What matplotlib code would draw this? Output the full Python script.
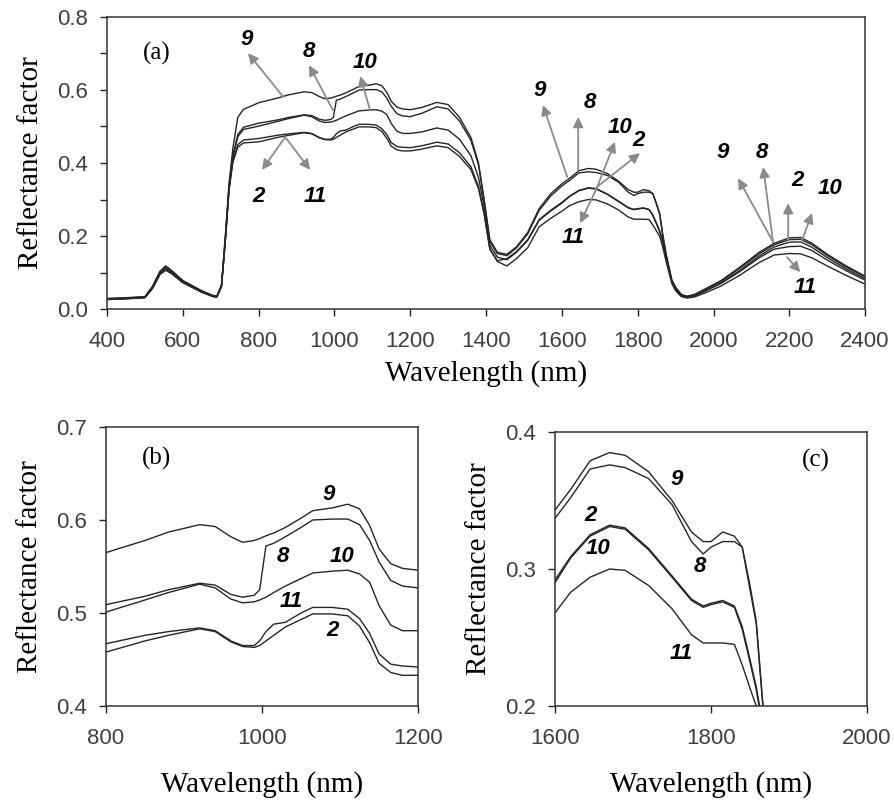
import matplotlib
matplotlib.use("Agg")
import matplotlib.pyplot as plt
from matplotlib.ticker import MultipleLocator, FormatStrFormatter

# Wavelength knots (nm) shared by every spectrum
wavelength = [400, 450, 500, 520, 540, 555, 570, 600, 650, 680,
              690, 702, 712, 722, 732, 745, 760, 800, 850, 880,
              920, 940, 960, 975, 990, 997, 1005, 1015, 1030, 1050,
              1065, 1090, 1110, 1125, 1138, 1150, 1165, 1180, 1200, 1230,
              1270, 1300, 1330, 1360, 1380, 1395, 1410, 1430, 1455, 1480,
              1510, 1540, 1570, 1600, 1620, 1645, 1670, 1690, 1720, 1750,
              1775, 1790, 1800, 1815, 1830, 1840, 1850, 1858, 1866, 1875,
              1890, 1900, 1915, 1930, 1950, 1980, 2020, 2070, 2120, 2160,
              2200, 2230, 2260, 2300, 2350, 2400]

# Reflectance factor of each sample
refl_9 = [0.029, 0.031, 0.034, 0.062, 0.104, 0.118, 0.106, 0.078, 0.050, 0.037,
          0.036, 0.066, 0.200, 0.345, 0.440, 0.525, 0.547, 0.565, 0.578, 0.587,
          0.595, 0.593, 0.582, 0.576, 0.578, 0.580, 0.583, 0.586, 0.592, 0.602,
          0.610, 0.613, 0.617, 0.612, 0.594, 0.569, 0.553, 0.548, 0.546, 0.552,
          0.566, 0.560, 0.525, 0.470, 0.400, 0.300, 0.190, 0.155, 0.150, 0.170,
          0.210, 0.275, 0.315, 0.343, 0.358, 0.379, 0.385, 0.383, 0.371, 0.350,
          0.327, 0.320, 0.320, 0.327, 0.324, 0.316, 0.288, 0.262, 0.205, 0.150,
          0.080, 0.060, 0.040, 0.035, 0.040, 0.056, 0.078, 0.115, 0.155, 0.180,
          0.195, 0.196, 0.180, 0.150, 0.118, 0.090]

refl_8 = [0.028, 0.030, 0.033, 0.061, 0.102, 0.116, 0.104, 0.077, 0.049, 0.036,
          0.035, 0.064, 0.190, 0.335, 0.420, 0.478, 0.498, 0.509, 0.518, 0.525,
          0.532, 0.530, 0.520, 0.517, 0.519, 0.525, 0.572, 0.575, 0.582, 0.592,
          0.600, 0.601, 0.601, 0.595, 0.578, 0.555, 0.535, 0.529, 0.527, 0.536,
          0.554, 0.548, 0.515, 0.462, 0.395, 0.295, 0.185, 0.152, 0.146, 0.167,
          0.206, 0.270, 0.309, 0.337, 0.352, 0.373, 0.376, 0.374, 0.366, 0.347,
          0.320, 0.311, 0.316, 0.320, 0.320, 0.316, 0.285, 0.260, 0.203, 0.148,
          0.078, 0.058, 0.039, 0.034, 0.039, 0.054, 0.076, 0.112, 0.151, 0.176,
          0.190, 0.191, 0.176, 0.147, 0.115, 0.088]

refl_10 = [0.027, 0.029, 0.032, 0.059, 0.099, 0.112, 0.101, 0.075, 0.047, 0.035,
           0.034, 0.063, 0.188, 0.332, 0.415, 0.472, 0.492, 0.501, 0.514, 0.522,
           0.531, 0.527, 0.515, 0.511, 0.512, 0.514, 0.517, 0.522, 0.529, 0.537,
           0.543, 0.545, 0.546, 0.542, 0.533, 0.508, 0.487, 0.481, 0.481, 0.485,
           0.496, 0.490, 0.465, 0.420, 0.360, 0.280, 0.175, 0.142, 0.135, 0.155,
           0.188, 0.243, 0.268, 0.290, 0.308, 0.324, 0.331, 0.329, 0.314, 0.294,
           0.277, 0.272, 0.274, 0.276, 0.272, 0.256, 0.232, 0.212, 0.185, 0.140,
           0.075, 0.054, 0.036, 0.032, 0.036, 0.050, 0.070, 0.103, 0.140, 0.164,
           0.171, 0.172, 0.160, 0.134, 0.105, 0.079]

refl_11 = [0.026, 0.028, 0.031, 0.057, 0.096, 0.108, 0.098, 0.073, 0.046, 0.034,
           0.033, 0.062, 0.185, 0.328, 0.405, 0.450, 0.463, 0.467, 0.476, 0.480,
           0.484, 0.481, 0.470, 0.465, 0.465, 0.470, 0.480, 0.488, 0.490, 0.500,
           0.506, 0.506, 0.504, 0.494, 0.478, 0.456, 0.445, 0.443, 0.442, 0.447,
           0.457, 0.452, 0.428, 0.390, 0.335, 0.262, 0.165, 0.130, 0.118, 0.138,
           0.168, 0.225, 0.248, 0.268, 0.283, 0.294, 0.300, 0.299, 0.288, 0.271,
           0.252, 0.246, 0.246, 0.246, 0.245, 0.230, 0.213, 0.200, 0.170, 0.130,
           0.070, 0.050, 0.034, 0.030, 0.033, 0.045, 0.063, 0.093, 0.127, 0.148,
           0.152, 0.151, 0.140, 0.118, 0.092, 0.068]

refl_2 = [0.026, 0.028, 0.031, 0.056, 0.095, 0.106, 0.097, 0.072, 0.046, 0.034,
          0.033, 0.062, 0.185, 0.328, 0.402, 0.443, 0.455, 0.458, 0.470, 0.476,
          0.483, 0.480, 0.469, 0.464, 0.463, 0.465, 0.470, 0.476, 0.485, 0.493,
          0.499, 0.499, 0.497, 0.486, 0.468, 0.446, 0.436, 0.433, 0.433, 0.438,
          0.447, 0.442, 0.418, 0.382, 0.330, 0.260, 0.163, 0.132, 0.138, 0.157,
          0.190, 0.245, 0.270, 0.292, 0.309, 0.325, 0.332, 0.330, 0.315, 0.295,
          0.278, 0.273, 0.275, 0.277, 0.273, 0.258, 0.234, 0.214, 0.188, 0.142,
          0.076, 0.055, 0.037, 0.033, 0.037, 0.051, 0.072, 0.106, 0.145, 0.170,
          0.183, 0.184, 0.169, 0.141, 0.110, 0.083]

spectra = [refl_9, refl_8, refl_10, refl_11, refl_2]

SANS = "Liberation Sans"
SERIF = "Liberation Serif"
ARROW = "#8a8a8a"


def style_axes(ax, xlim, xstep, ylim, ymajor, yminor, xpad):
    ax.set_xlim(*xlim)
    ax.set_ylim(*ylim)
    ax.xaxis.set_major_locator(MultipleLocator(xstep))
    ax.yaxis.set_major_locator(MultipleLocator(ymajor))
    ax.yaxis.set_minor_locator(MultipleLocator(yminor))
    ax.yaxis.set_major_formatter(FormatStrFormatter("%.1f"))
    ax.tick_params(which="both", direction="out", length=5, width=1,
                   color="#222222", top=False, right=False)
    ax.tick_params(axis="x", pad=11, labelsize=16, labelcolor="#404040")
    ax.tick_params(axis="y", pad=9, labelsize=16, labelcolor="#404040")
    for lab in ax.get_xticklabels() + ax.get_yticklabels():
        lab.set_family(SANS)
    for sp in ax.spines.values():
        sp.set_color("#333333")
        sp.set_linewidth(1.1)
    ax.set_xlabel("Wavelength (nm)", family=SERIF, fontsize=21, labelpad=xpad)
    ax.set_ylabel("Reflectance factor", family=SERIF, fontsize=21, labelpad=9)


def num(ax, x, y, s):
    ax.text(x, y, s, family=SANS, fontsize=16, fontweight="bold",
            fontstyle="italic", ha="center", va="center")


def arrow(ax, tail, head):
    ax.annotate("", xy=head, xytext=tail,
                arrowprops=dict(arrowstyle="-|>", color=ARROW, lw=1.3,
                                mutation_scale=15, shrinkA=0, shrinkB=0))


fig = plt.figure(figsize=(8.94, 8.0), dpi=100)
ax_a = fig.add_axes([0.1197, 0.61375, 0.848, 0.365])
ax_b = fig.add_axes([0.1186, 0.1175, 0.349, 0.34875])
ax_c = fig.add_axes([0.6208, 0.1175, 0.349, 0.3425])

for ax in (ax_a, ax_b, ax_c):
    for r in spectra:
        ax.plot(wavelength, r, color="#262626", lw=1.0)

# (a) full spectrum
style_axes(ax_a, (400, 2400), 200, (0, 0.8), 0.2, 0.1, 6)
ax_a.text(532, 0.70, "(a)", family=SERIF, fontsize=18, ha="center", va="center")

# NIR plateau arrows
arrow(ax_a, (865, 0.581), (772, 0.701)); num(ax_a, 769, 0.737, "9")
arrow(ax_a, (996, 0.545), (933, 0.668)); num(ax_a, 933, 0.705, "8")
arrow(ax_a, (1094, 0.545), (1068, 0.638)); num(ax_a, 1081, 0.674, "10")
arrow(ax_a, (870, 0.471), (809, 0.381)); num(ax_a, 799, 0.307, "2")
arrow(ax_a, (870, 0.471), (936, 0.381)); num(ax_a, 949, 0.307, "11")

# 1700 nm arrows
arrow(ax_a, (1614, 0.362), (1550, 0.559)); num(ax_a, 1542, 0.600, "9")
arrow(ax_a, (1643, 0.381), (1643, 0.526)); num(ax_a, 1674, 0.567, "8")
arrow(ax_a, (1692, 0.331), (1740, 0.458)); num(ax_a, 1754, 0.496, "10")
arrow(ax_a, (1692, 0.334), (1806, 0.427)); num(ax_a, 1801, 0.463, "2")
arrow(ax_a, (1692, 0.331), (1648, 0.235)); num(ax_a, 1630, 0.197, "11")

# 2200 nm arrows
arrow(ax_a, (2157, 0.184), (2065, 0.358)); num(ax_a, 2025, 0.430, "9")
arrow(ax_a, (2157, 0.184), (2131, 0.389)); num(ax_a, 2128, 0.430, "8")
arrow(ax_a, (2197, 0.189), (2197, 0.290)); num(ax_a, 2221, 0.353, "2")
arrow(ax_a, (2234, 0.189), (2260, 0.263)); num(ax_a, 2308, 0.331, "10")
arrow(ax_a, (2194, 0.142), (2229, 0.101)); num(ax_a, 2242, 0.060, "11")

# (b) 800-1200 nm detail
style_axes(ax_b, (800, 1200), 200, (0.4, 0.7), 0.1, 0.1, 16)
ax_b.text(865, 0.666, "(b)", family=SERIF, fontsize=18, ha="center", va="center")
num(ax_b, 1085, 0.627, "9")
num(ax_b, 1027, 0.561, "8")
num(ax_b, 1102, 0.561, "10")
num(ax_b, 1038, 0.512, "11")
num(ax_b, 1091, 0.481, "2")

# (c) 1600-2000 nm detail
style_axes(ax_c, (1600, 2000), 200, (0.2, 0.4), 0.1, 0.1, 16)
ax_c.text(1935, 0.379, "(c)", family=SERIF, fontsize=18, ha="center", va="center")
num(ax_c, 1756, 0.365, "9")
num(ax_c, 1645, 0.339, "2")
num(ax_c, 1655, 0.315, "10")
num(ax_c, 1786, 0.302, "8")
num(ax_c, 1762, 0.238, "11")

fig.savefig("out.png", dpi=100, facecolor="white")
